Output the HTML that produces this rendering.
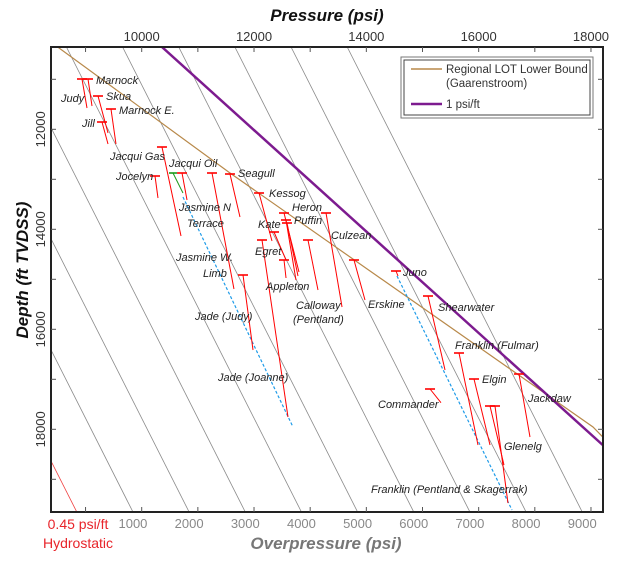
<!DOCTYPE html>
<html><head><meta charset="utf-8">
<style>
html,body{margin:0;padding:0;background:#fff;}
svg{display:block;font-family:"Liberation Sans",Arial,sans-serif;}
.lbl{font-size:11px;font-style:italic;fill:#222;}
</style></head>
<body>
<svg id="chart" width="623" height="562" viewBox="0 0 623 562" xmlns="http://www.w3.org/2000/svg">
<defs><clipPath id="plotclip"><rect x="51" y="47" width="552" height="465"/></clipPath></defs>
<g id="grid" clip-path="url(#plotclip)"></g>
<g id="marks" clip-path="url(#plotclip)"></g>
<g id="axes"></g>
<g id="labels"></g>
<text x="327" y="21" text-anchor="middle" font-size="17" font-weight="bold" font-style="italic" fill="#111">Pressure (psi)</text>
<text x="326" y="549" text-anchor="middle" font-size="17" font-weight="bold" font-style="italic" fill="#777">Overpressure (psi)</text>
<text transform="translate(28,270) rotate(-90)" text-anchor="middle" font-size="17" font-weight="bold" font-style="italic" fill="#111">Depth (ft TVDSS)</text>
<text x="78" y="529" text-anchor="middle" font-size="14" fill="#e8242a">0.45 psi/ft</text>
<text x="78" y="548" text-anchor="middle" font-size="14" fill="#e8242a">Hydrostatic</text>
<g>
<rect x="401" y="57" width="192" height="61" fill="#fff" stroke="#777" stroke-width="1"/>
<rect x="404" y="60" width="186" height="55" fill="none" stroke="#444" stroke-width="1"/>
<line x1="411" y1="69" x2="442" y2="69" stroke="#b8894a" stroke-width="1.5"/>
<text x="446" y="73" font-size="11.5" fill="#333">Regional LOT Lower Bound</text>
<text x="446" y="87" font-size="11.5" fill="#333">(Gaarenstroom)</text>
<line x1="411" y1="104" x2="442" y2="104" stroke="#7d1b8f" stroke-width="2.5"/>
<text x="446" y="108" font-size="11.5" fill="#333">1 psi/ft</text>
</g>
</svg>
<script>
// ---- data ----
const pressureTicks = [9000,10000,11000,12000,13000,14000,15000,16000,17000,18000];
const pressureLabels = [10000,12000,14000,16000,18000];
const depthTicks = [11000,12000,13000,14000,15000,16000,17000,18000,19000];
const depthLabels = [12000,14000,16000,18000];
const overpressureLines = [1000,2000,3000,4000,5000,6000,7000,8000,9000];
const overpressureLabels = [1000,2000,3000,4000,5000,6000,7000,8000,9000];
const hydroGradient = 0.45;
const lotPressure = [8504,11572,18036,18209];
const lotDepth = [10354,12874,17954,18154];
const onePsiPressure = [10361,18209];
const onePsiDepth = [10354,18314];
const fieldNames = ["Marnock","Judy","Skua","Marnock E.","Jill","Jacqui Gas","Jocelyn","Jacqui Oil","Jasmine N","Seagull","Kessog","Heron","Puffin","Puffin 2","Kate","Egret","Egret 2","Appleton","Culzean","Erskine","Limb","Juno","Shearwater","Franklin (Fulmar)","Elgin","Commander","Glenelg","Glenelg 2","Jackdaw"];
const topPressure = [8937,9044,9222,9453,9293,10361,10237,10718,11252,11572,12089,12534,12569,12587,12356,12142,12534,12961,13282,13780,11804,14528,15098,15650,15917,15134,16202,16291,16718];
const topDepth = [10994,10994,11334,11594,11854,12354,12934,12874,12874,12894,13274,13674,13814,13874,14054,14214,14614,14214,13674,14614,14914,14834,15334,16474,16994,17194,17534,17534,16894];
const botPressure = [9026,9115,9400,9542,9400,10700,10290,10807,11643,11750,12320,12801,12747,12783,12570,12605,12570,13139,13567,13976,11982,14564,15401,15988,16202,15329,16451,16522,16914];
const botDepth = [11574,11534,12074,12294,12294,14134,13374,13414,15194,13754,14234,14854,15014,14934,14614,17754,14974,15214,15554,15414,16414,14934,16814,18314,18314,17468,18714,19474,18154];
const greenSeg = [10557,12874,10735,13274];
const trendPressure = [[10735,12694],[14546,16594]];
const trendDepth = [[13354,17954],[14934,19614]];

// ---- scales ----
const X0=51, X1=603, Y0=47, Y1=512;
const xP = p => 51 + (p-8385)*0.05616;
const yD = d => 129.3 + (d-12000)*0.05;
const dMin = 12000 + (Y0-129.3)/0.05, dMax = 12000 + (Y1-129.3)/0.05;
const NS="http://www.w3.org/2000/svg";
function mk(tag, attrs, parent){const e=document.createElementNS(NS,tag);for(const k in attrs)e.setAttribute(k,attrs[k]);parent.appendChild(e);return e;}
const grid=document.getElementById('grid'), marks=document.getElementById('marks'), axes=document.getElementById('axes'), labels=document.getElementById('labels');

overpressureLines.forEach(op=>{
  const l=mk('line',{x1:xP(hydroGradient*dMin+op),y1:Y0,x2:xP(hydroGradient*dMax+op),y2:Y1,stroke:'#8a8a8a','stroke-width':0.8},grid);
  
  
});
const hyd=mk('line',{x1:xP(hydroGradient*dMin),y1:Y0,x2:xP(hydroGradient*dMax),y2:Y1,stroke:'#f04040','stroke-width':0.8},grid);



const lot=mk('polyline',{points:lotPressure.map((p,i)=>xP(p)+','+yD(lotDepth[i])).join(' '),fill:'none',stroke:'#b8894a','stroke-width':1.2},grid);


const pur=mk('polyline',{points:onePsiPressure.map((p,i)=>xP(p)+','+yD(onePsiDepth[i])).join(' '),fill:'none',stroke:'#7d1b8f','stroke-width':2.5},grid);



trendPressure.forEach((tp,i)=>{
  const l=mk('line',{x1:xP(tp[0]),y1:yD(trendDepth[i][0]),x2:xP(tp[1]),y2:yD(trendDepth[i][1]),stroke:'#1e9be8','stroke-width':1.2,'stroke-dasharray':'3,2'},marks);
  
  
});

fieldNames.forEach((n,i)=>{
  const g=mk('g',{},marks);
  
  
  const x=xP(topPressure[i]), y=yD(topDepth[i]);
  mk('line',{x1:x-5,y1:y,x2:x+5,y2:y,stroke:'#f00','stroke-width':1.6},g);
  mk('line',{x1:x,y1:y,x2:xP(botPressure[i]),y2:yD(botDepth[i]),stroke:'#f00','stroke-width':1},g);
});
const gg=mk('g',{},marks);


mk('line',{x1:xP(greenSeg[0])-4,y1:yD(greenSeg[1]),x2:xP(greenSeg[0])+4,y2:yD(greenSeg[1]),stroke:'#1a9a1a','stroke-width':1.6},gg);
mk('line',{x1:xP(greenSeg[0]),y1:yD(greenSeg[1]),x2:xP(greenSeg[2]),y2:yD(greenSeg[3]),stroke:'#1a9a1a','stroke-width':1},gg);

const fr=mk('rect',{x:X0,y:Y0,width:X1-X0,height:Y1-Y0,fill:'none',stroke:'#222','stroke-width':2},axes);


pressureTicks.forEach(p=>{
  const x=xP(p);
  const t=mk('line',{x1:x,y1:Y0,x2:x,y2:Y0+5,stroke:'#555','stroke-width':1},axes);
  
  
  const b=mk('line',{x1:x,y1:Y1,x2:x,y2:Y1-5,stroke:'#555','stroke-width':1},axes);
  
  
});
pressureLabels.forEach(p=>{
  const t=mk('text',{x:xP(p),y:41,'text-anchor':'middle','font-size':13,fill:'#333'},axes);
  t.textContent=p;
  
  
});
depthTicks.forEach(d=>{
  const y=yD(d);
  const t=mk('line',{x1:X0,y1:y,x2:X0+5,y2:y,stroke:'#555','stroke-width':1},axes);
  
  
  const r=mk('line',{x1:X1,y1:y,x2:X1-5,y2:y,stroke:'#555','stroke-width':1},axes);
  
  
});
depthLabels.forEach(d=>{
  const t=mk('text',{transform:'translate(45,'+yD(d)+') rotate(-90)','text-anchor':'middle','font-size':13,fill:'#333'},axes);
  t.textContent=d;
  
  
});
overpressureLabels.forEach(op=>{
  const t=mk('text',{x:xP(hydroGradient*dMax+op),y:528,'text-anchor':'middle','font-size':13,fill:'#888'},axes);
  t.textContent=op;
  
  
});

const labelText = ["Marnock","Judy","Skua","Marnock E.","Jill","Jacqui Gas","Jacqui Oil","Jocelyn","Seagull","Jasmine N","Terrace","Kessog","Heron","Puffin","Kate","Culzean","Egret","Jasmine W.","Limb","Appleton","Calloway","(Pentland)","Jade (Judy)","Erskine","Juno","Shearwater","Jade (Joanne)","Franklin (Fulmar)","Elgin","Jackdaw","Commander","Glenelg","Franklin (Pentland & Skagerrak)"];
const labelPos = [[96,80],[61,98],[106,96],[119,110],[82,123],[110,156],[169,163],[116,176],[238,173],[179,207],[187,223],[269,193],[292,207],[294,220],[258,224],[331,235],[255,251],[176,257],[203,273],[266,286],[296,305],[293,319],[195,316],[368,304],[403,272],[438,307],[218,377],[455,345],[482,379],[528,398],[378,404],[504,446],[371,489]];
labelText.forEach((s,i)=>{
  const t=mk('text',{x:labelPos[i][0],y:labelPos[i][1]+4,class:'lbl'},labels);
  if(s==='Culzean') t.setAttribute('font-size','9.5');
  t.textContent=s;
  
  
});
</script>
</body></html>
